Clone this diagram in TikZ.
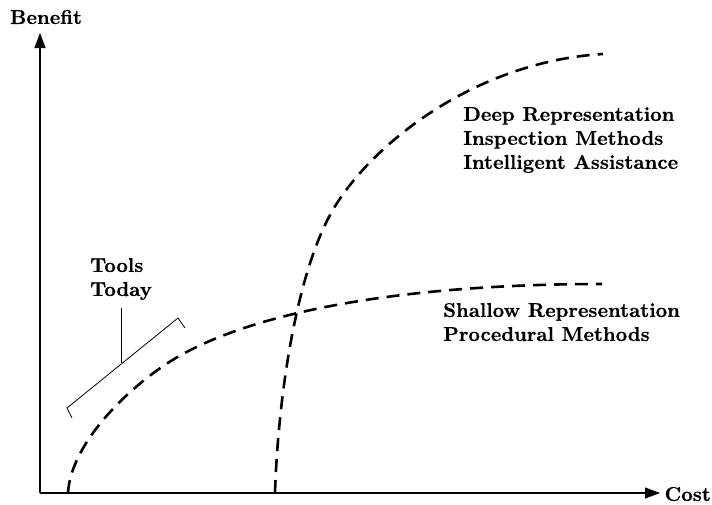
\documentclass[tikz,border=0pt]{standalone}
\usepackage{fontspec}
\newfontfamily\cmbxfont{lmroman10-bold.otf}[FakeBold=0.6]
\usetikzlibrary{arrows.meta}
\begin{document}
\begin{tikzpicture}[x=1pt,y=-1pt,
  lbl/.style={font=\cmbxfont\fontsize{20}{24}\selectfont, inner sep=0pt, align=left},
  axis/.style={line width=1.1pt, -{Triangle[length=15pt,width=11pt]}},
  curve/.style={line width=2.6pt, dash pattern=on 13pt off 8pt},
  thin/.style={line width=0.8pt}]
\useasboundingbox (0,0) rectangle (712,504);
\coordinate (O) at (40,493);
\coordinate (ytip) at (40,33);
\coordinate (xtip) at (660,493);
\draw[axis] (O) -- (ytip);
\draw[axis] (O) -- (xtip);
\node[lbl, anchor=center] (benefit) at (46,17) {Benefit};
\node[lbl, anchor=east] (cost) at (711,494) {Cost};
% shallow curve
\coordinate (s0) at (68,493);
\coordinate (s1) at (181,355);
\coordinate (s2) at (602,284);
\draw[curve] (s0) .. controls (71,440) and (136,380) .. (s1)
                  .. controls (271,305) and (430,284) .. (s2);
% deep curve
\coordinate (d0) at (275,493);
\coordinate (d1) at (330,215);
\coordinate (d2) at (603,54);
\draw[curve] (d0) .. controls (278,400) and (295,280) .. (d1)
                  .. controls (365,150) and (470,62) .. (d2);
% labels
\node[lbl, anchor=west] (deep) at (463,140) {Deep Representation\\Inspection Methods\\Intelligent Assistance};
\node[lbl, anchor=west] (shallow) at (443,322) {Shallow Representation\\Procedural Methods};
\node[lbl, anchor=west] (tools) at (90,279) {Tools\\Today};
% bracket
\coordinate (bl) at (67,408);
\coordinate (br) at (178,318);
\coordinate (blt) at (72,418);
\coordinate (brt) at (185,328);
\coordinate (stemtop) at (121,308);
\coordinate (stembot) at (121,363);
\draw[thin] (blt) -- (bl) -- (br) -- (brt);
\draw[thin, line width=1pt] (stemtop) -- (stembot);
\end{tikzpicture}
\end{document}
